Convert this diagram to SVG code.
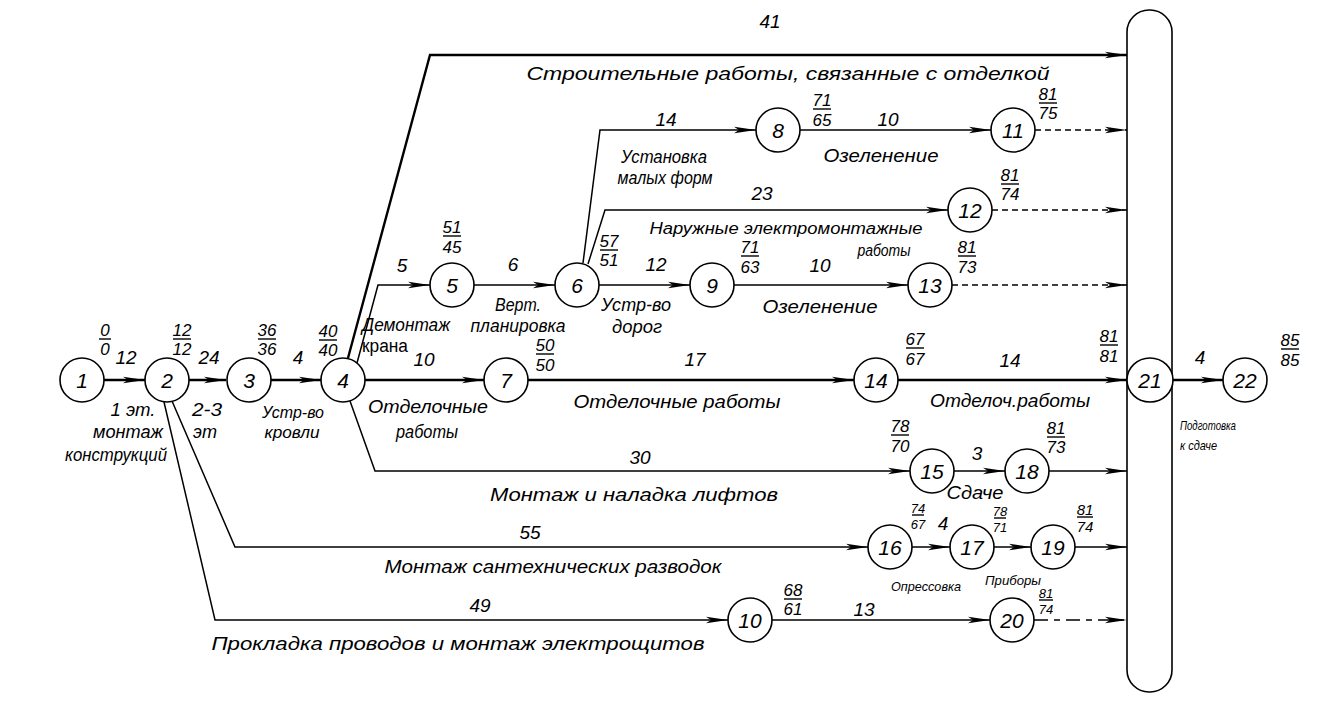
<svg xmlns="http://www.w3.org/2000/svg" width="1327" height="715" viewBox="0 0 1327 715">
<style>
text{font-family:"Liberation Sans",Arial,sans-serif;font-style:italic;fill:#000}
.n{font-size:21px;text-anchor:middle}
.d{font-size:19px;text-anchor:middle}
.f{font-size:17px;text-anchor:middle}
.fm{font-size:15px;text-anchor:middle}
.fs{font-size:13px;text-anchor:middle}
.l{font-size:18px;text-anchor:middle}
.ls{font-size:13px}
.c{fill:#fff;stroke:#000;stroke-width:1.6}
.u{stroke:#000;stroke-width:1.4}
.e{fill:none;stroke:#000;stroke-width:1.5}
.k{fill:none;stroke:#000;stroke-width:2.4}
.ds{fill:none;stroke:#000;stroke-width:1.4;stroke-dasharray:6 4}
.dl{fill:none;stroke:#000;stroke-width:1.5;stroke-dasharray:14 6 6 6}
</style>
<defs>
<marker id="ah" markerWidth="24" markerHeight="10" refX="22" refY="5" orient="auto" markerUnits="userSpaceOnUse">
<path d="M0,1.8 L22,5 L0,8.2 L5,5 z" fill="#000"/>
</marker>
</defs>
<rect x="0" y="0" width="1327" height="715" fill="#fff"/>

<g id="connectors">
<path class="k" d="M348,358 L430,55 L1127,55" marker-end="url(#ah)"/>
<path class="e" d="M583,263 L600,130 L756,130" marker-end="url(#ah)"/>
<path class="e" d="M800,130 L991,130" marker-end="url(#ah)"/>
<path class="ds" d="M1035,130 L1127,130" marker-end="url(#ah)"/>
<path class="e" d="M588,264 L605,210 L948,210" marker-end="url(#ah)"/>
<path class="ds" d="M992,210 L1127,210" marker-end="url(#ah)"/>
<path class="e" d="M357,363 L378,285 L430,285" marker-end="url(#ah)"/>
<path class="e" d="M474,285 L555,285" marker-end="url(#ah)"/>
<path class="e" d="M599,285 L690,285" marker-end="url(#ah)"/>
<path class="e" d="M734,285 L908,285" marker-end="url(#ah)"/>
<path class="ds" d="M952,285 L1127,285" marker-end="url(#ah)"/>
<path class="k" d="M102,380 L145,380" marker-end="url(#ah)"/>
<path class="k" d="M189,380 L226,380" marker-end="url(#ah)"/>
<path class="k" d="M270,380 L321,380" marker-end="url(#ah)"/>
<path class="k" d="M365,380 L484,380" marker-end="url(#ah)"/>
<path class="k" d="M528,380 L854,380" marker-end="url(#ah)"/>
<path class="k" d="M898,380 L1127,380" marker-end="url(#ah)"/>
<path class="k" d="M1173,380 L1223,380" marker-end="url(#ah)"/>
<path class="e" d="M350,401 L375,471 L910,471" marker-end="url(#ah)"/>
<path class="e" d="M954,471 L1005,471" marker-end="url(#ah)"/>
<path class="e" d="M1049,471 L1127,471" marker-end="url(#ah)"/>
<path class="e" d="M172,401 L235,547 L868,547" marker-end="url(#ah)"/>
<path class="e" d="M912,547 L950,547" marker-end="url(#ah)"/>
<path class="e" d="M994,547 L1031,547" marker-end="url(#ah)"/>
<path class="e" d="M1075,547 L1127,547" marker-end="url(#ah)"/>
<path class="e" d="M164,402 L215,620 L728,620" marker-end="url(#ah)"/>
<path class="e" d="M772,620 L990,620" marker-end="url(#ah)"/>
<path class="dl" d="M1034,620 L1127,620" marker-end="url(#ah)"/>
</g>

<g id="labels">
<text class="d" x="770" y="28">41</text>
<text class="l" x="788" y="80" textLength="523" lengthAdjust="spacingAndGlyphs">Строительные работы, связанные с отделкой</text>
<text class="d" x="666" y="126">14</text>
<text class="l" x="664" y="163" textLength="86" lengthAdjust="spacingAndGlyphs">Установка</text>
<text class="l" x="665" y="184" textLength="95" lengthAdjust="spacingAndGlyphs">малых форм</text>
<text class="d" x="888" y="126">10</text>
<text class="l" x="881" y="162" textLength="115" lengthAdjust="spacingAndGlyphs">Озеленение</text>
<text class="d" x="762" y="200">23</text>
<text class="l" x="786" y="234" style="font-size:16px" textLength="273" lengthAdjust="spacingAndGlyphs">Наружные электромонтажные</text>
<text class="l" x="884" y="256" style="font-size:16px" textLength="53" lengthAdjust="spacingAndGlyphs">работы</text>
<text class="d" x="402" y="272">5</text>
<text class="d" x="513" y="271">6</text>
<text class="d" x="656" y="271">12</text>
<text class="d" x="820" y="272">10</text>
<text class="l" x="518" y="311" textLength="46" lengthAdjust="spacingAndGlyphs">Верт.</text>
<text class="l" x="518" y="332" textLength="95" lengthAdjust="spacingAndGlyphs">планировка</text>
<text class="l" x="636" y="311" textLength="70" lengthAdjust="spacingAndGlyphs">Устр-во</text>
<text class="l" x="637" y="333" textLength="50" lengthAdjust="spacingAndGlyphs">дорог</text>
<text class="l" x="820" y="313" textLength="115" lengthAdjust="spacingAndGlyphs">Озеленение</text>
<text class="l" x="406" y="331" textLength="88" lengthAdjust="spacingAndGlyphs">Демонтаж</text>
<text class="l" x="385" y="352" style="font-style:normal" textLength="46" lengthAdjust="spacingAndGlyphs">крана</text>
<text class="d" x="126" y="364">12</text>
<text class="d" x="209" y="364">24</text>
<text class="d" x="298" y="364">4</text>
<text class="d" x="424" y="366">10</text>
<text class="d" x="695" y="366">17</text>
<text class="d" x="1010" y="367">14</text>
<text class="d" x="1200" y="364">4</text>
<text class="l" x="133" y="416" textLength="45" lengthAdjust="spacingAndGlyphs">1 эт.</text>
<text class="l" x="128" y="438" textLength="70" lengthAdjust="spacingAndGlyphs">монтаж</text>
<text class="l" x="116" y="461" textLength="102" lengthAdjust="spacingAndGlyphs">конструкций</text>
<text class="l" x="207" y="416" textLength="30" lengthAdjust="spacingAndGlyphs">2-3</text>
<text class="l" x="205" y="438" textLength="24" lengthAdjust="spacingAndGlyphs">эт</text>
<text class="l" x="293" y="418" style="font-size:16px" textLength="62" lengthAdjust="spacingAndGlyphs">Устр-во</text>
<text class="l" x="292" y="438" style="font-size:16px" textLength="55" lengthAdjust="spacingAndGlyphs">кровли</text>
<text class="l" x="428" y="413" textLength="120" lengthAdjust="spacingAndGlyphs">Отделочные</text>
<text class="l" x="427" y="438" textLength="62" lengthAdjust="spacingAndGlyphs">работы</text>
<text class="l" x="677" y="408" textLength="207" lengthAdjust="spacingAndGlyphs">Отделочные работы</text>
<text class="l" x="1010" y="407" textLength="160" lengthAdjust="spacingAndGlyphs">Отделоч.работы</text>
<text class="ls" x="1180" y="430" textLength="56" lengthAdjust="spacingAndGlyphs">Подготовка</text>
<text class="ls" x="1180" y="450" textLength="37" lengthAdjust="spacingAndGlyphs">к сдаче</text>
<text class="d" x="640" y="464">30</text>
<text class="l" x="634" y="501" textLength="288" lengthAdjust="spacingAndGlyphs">Монтаж и наладка лифтов</text>
<text class="d" x="977" y="460">3</text>
<text class="l" x="975" y="499" textLength="57" lengthAdjust="spacingAndGlyphs">Сдаче</text>
<text class="d" x="530" y="539">55</text>
<text class="l" x="553" y="573" textLength="337" lengthAdjust="spacingAndGlyphs">Монтаж сантехнических разводок</text>
<text class="d" x="943" y="530">4</text>
<text class="ls" x="926" y="591" text-anchor="middle" textLength="70" lengthAdjust="spacingAndGlyphs">Опрессовка</text>
<text class="ls" x="1013" y="585" text-anchor="middle" textLength="56" lengthAdjust="spacingAndGlyphs">Приборы</text>
<text class="d" x="480" y="612">49</text>
<text class="l" x="458" y="650" textLength="493" lengthAdjust="spacingAndGlyphs">Прокладка проводов и монтаж электрощитов</text>
<text class="d" x="864" y="616">13</text>
</g>

<g id="node1"><circle class="c" cx="82" cy="380" r="22"/><text class="n" x="82" y="388">1</text>
<text class="f" x="105" y="336">0</text><line class="u" x1="99" y1="339" x2="111" y2="339"/><text class="f" x="105" y="355">0</text></g>
<g id="node2"><circle class="c" cx="167" cy="380" r="22"/><text class="n" x="167" y="388">2</text>
<text class="f" x="182" y="336">12</text><line class="u" x1="173" y1="339" x2="191" y2="339"/><text class="f" x="182" y="355">12</text></g>
<g id="node3"><circle class="c" cx="249" cy="380" r="22"/><text class="n" x="249" y="388">3</text>
<text class="f" x="267" y="336">36</text><line class="u" x1="258" y1="339" x2="276" y2="339"/><text class="f" x="267" y="355">36</text></g>
<g id="node4"><circle class="c" cx="343" cy="380" r="22"/><text class="n" x="343" y="388">4</text>
<text class="f" x="328" y="337">40</text><line class="u" x1="319" y1="340" x2="337" y2="340"/><text class="f" x="328" y="356">40</text></g>
<g id="node5"><circle class="c" cx="452" cy="285" r="22"/><text class="n" x="452" y="293">5</text>
<text class="f" x="452" y="233">51</text><line class="u" x1="443" y1="236" x2="461" y2="236"/><text class="f" x="452" y="253">45</text></g>
<g id="node6"><circle class="c" cx="577" cy="285" r="22"/><text class="n" x="577" y="293">6</text>
<text class="f" x="609" y="247">57</text><line class="u" x1="600" y1="250" x2="618" y2="250"/><text class="f" x="609" y="266">51</text></g>
<g id="node7"><circle class="c" cx="506" cy="380" r="22"/><text class="n" x="506" y="388">7</text>
<text class="f" x="545" y="351">50</text><line class="u" x1="536" y1="354" x2="554" y2="354"/><text class="f" x="545" y="371">50</text></g>
<g id="node8"><circle class="c" cx="778" cy="130" r="22"/><text class="n" x="778" y="138">8</text>
<text class="f" x="822" y="106">71</text><line class="u" x1="813" y1="109" x2="831" y2="109"/><text class="f" x="822" y="126">65</text></g>
<g id="node9"><circle class="c" cx="712" cy="285" r="22"/><text class="n" x="712" y="293">9</text>
<text class="f" x="750" y="253">71</text><line class="u" x1="741" y1="256" x2="759" y2="256"/><text class="f" x="750" y="273">63</text></g>
<g id="node10"><circle class="c" cx="750" cy="620" r="22"/><text class="n" x="750" y="628">10</text>
<text class="f" x="793" y="596">68</text><line class="u" x1="784" y1="599" x2="802" y2="599"/><text class="f" x="793" y="615">61</text></g>
<g id="node11"><circle class="c" cx="1013" cy="130" r="22"/><text class="n" x="1013" y="138">11</text>
<text class="f" x="1048" y="100">81</text><line class="u" x1="1039" y1="103" x2="1057" y2="103"/><text class="f" x="1048" y="119">75</text></g>
<g id="node12"><circle class="c" cx="970" cy="210" r="22"/><text class="n" x="970" y="218">12</text>
<text class="f" x="1010" y="181">81</text><line class="u" x1="1001" y1="184" x2="1019" y2="184"/><text class="f" x="1010" y="200">74</text></g>
<g id="node13"><circle class="c" cx="930" cy="285" r="22"/><text class="n" x="930" y="293">13</text>
<text class="f" x="967" y="253">81</text><line class="u" x1="958" y1="256" x2="976" y2="256"/><text class="f" x="967" y="273">73</text></g>
<g id="node14"><circle class="c" cx="876" cy="380" r="22"/><text class="n" x="876" y="388">14</text>
<text class="f" x="915" y="345">67</text><line class="u" x1="906" y1="348" x2="924" y2="348"/><text class="f" x="915" y="365">67</text></g>
<g id="node15"><circle class="c" cx="932" cy="471" r="22"/><text class="n" x="932" y="479">15</text>
<text class="f" x="900" y="432">78</text><line class="u" x1="891" y1="435" x2="909" y2="435"/><text class="f" x="900" y="452">70</text></g>
<g id="node16"><circle class="c" cx="890" cy="547" r="22"/><text class="n" x="890" y="555">16</text>
<text class="fs" x="918" y="513">74</text><line class="u" x1="912" y1="515" x2="924" y2="515"/><text class="fs" x="918" y="529">67</text></g>
<g id="node17"><circle class="c" cx="972" cy="547" r="22"/><text class="n" x="972" y="555">17</text>
<text class="fs" x="1000" y="516">78</text><line class="u" x1="994" y1="518" x2="1006" y2="518"/><text class="fs" x="1000" y="532">71</text></g>
<g id="node18"><circle class="c" cx="1027" cy="471" r="22"/><text class="n" x="1027" y="479">18</text>
<text class="f" x="1056" y="434">81</text><line class="u" x1="1047" y1="437" x2="1065" y2="437"/><text class="f" x="1056" y="453">73</text></g>
<g id="node19"><circle class="c" cx="1053" cy="547" r="22"/><text class="n" x="1053" y="555">19</text>
<text class="fm" x="1085" y="515">81</text><line class="u" x1="1077" y1="517" x2="1093" y2="517"/><text class="fm" x="1085" y="532">74</text></g>
<g id="node20"><circle class="c" cx="1012" cy="620" r="22"/><text class="n" x="1012" y="628">20</text>
<text class="fs" x="1046" y="598">81</text><line class="u" x1="1039" y1="600" x2="1053" y2="600"/><text class="fs" x="1046" y="614">74</text></g>
<g id="node21"><rect class="c" x="1127" y="10" width="45" height="682" rx="22" ry="22"/><ellipse class="c" cx="1150" cy="380" rx="23" ry="22"/><text class="n" x="1150" y="388">21</text>
<text class="f" x="1109" y="342">81</text><line class="u" x1="1100" y1="345" x2="1118" y2="345"/><text class="f" x="1109" y="362">81</text></g>
<g id="node22"><circle class="c" cx="1245" cy="380" r="22"/><text class="n" x="1245" y="388">22</text>
<text class="f" x="1290" y="346">85</text><line class="u" x1="1281" y1="349" x2="1299" y2="349"/><text class="f" x="1290" y="366">85</text></g>
</svg>
